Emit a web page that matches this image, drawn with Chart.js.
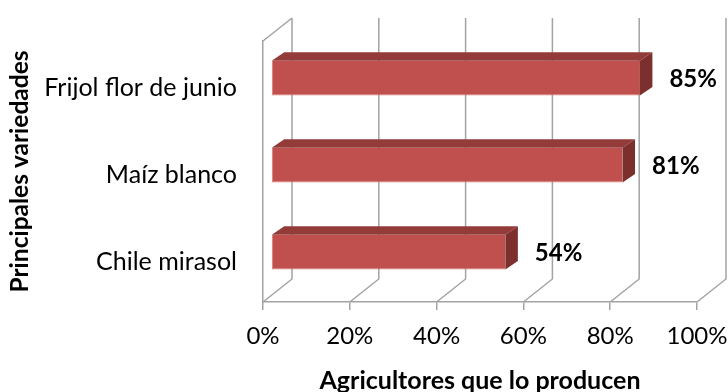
<!DOCTYPE html>
<html>
<head>
<meta charset="utf-8">
<script src="https://cdn.jsdelivr.net/npm/chart.js@4"></script>
<style>
  html, body { margin: 0; padding: 0; background: #fff; }
  #wrap { width: 728px; height: 392px; }
</style>
</head>
<body>
<div id="wrap"><canvas id="chart" width="728" height="392"></canvas></div>
<script>
/* global Chart */

const categories = ['Frijol flor de junio', 'Maíz blanco', 'Chile mirasol'];
const values     = [85, 81, 54];
const xTicks     = [0, 20, 40, 60, 80, 100];

const FONT = 'Lato, "Open Sans", sans-serif';
const GRID = '#a3a3a3';

// 3D box depth (back wall offset from the front plane)
const DEPTH_X = 29, DEPTH_Y = -23;
// bars sit a little way into the box and have their own depth
const BAR_SHIFT_X = 8, BAR_SHIFT_Y = -6.3;
const BAR_DX = 12.5, BAR_DY = -8.5;

const bar3d = {
  id: 'bar3d',
  beforeDatasetsDraw(chart) {
    const { ctx, chartArea: a, scales: { x } } = chart;
    ctx.save();
    ctx.strokeStyle = GRID;
    ctx.lineWidth = 1.5;
    ctx.beginPath();
    // left wall top edge
    ctx.moveTo(a.left, a.top);
    ctx.lineTo(a.left + DEPTH_X, a.top + DEPTH_Y);
    // back wall gridlines + floor diagonals
    xTicks.forEach((v) => {
      const fx = x.getPixelForValue(v);
      const bx = fx + DEPTH_X;
      ctx.moveTo(bx, a.top + DEPTH_Y);
      ctx.lineTo(bx, a.bottom + DEPTH_Y);
      ctx.lineTo(fx, a.bottom);
    });
    ctx.stroke();
    ctx.restore();

    // front faces are drawn by Chart.js, shifted into the box
    ctx.save();
    ctx.translate(BAR_SHIFT_X, BAR_SHIFT_Y);
  },
  afterDatasetsDraw(chart) {
    const { ctx } = chart;
    ctx.restore();

    const meta = chart.getDatasetMeta(0);
    ctx.save();
    meta.data.forEach((el, i) => {
      const { x, y, base, height } = el.getProps(['x', 'y', 'base', 'height'], true);
      const l = base + BAR_SHIFT_X, r = x + BAR_SHIFT_X;
      const t = y - height / 2 + BAR_SHIFT_Y, b = y + height / 2 + BAR_SHIFT_Y;

      // top face
      ctx.fillStyle = '#933b39';
      ctx.beginPath();
      ctx.moveTo(l, t);
      ctx.lineTo(r, t);
      ctx.lineTo(r + BAR_DX, t + BAR_DY);
      ctx.lineTo(l + BAR_DX, t + BAR_DY);
      ctx.closePath();
      ctx.fill();

      // end face
      ctx.fillStyle = '#7c302e';
      ctx.beginPath();
      ctx.moveTo(r, t);
      ctx.lineTo(r + BAR_DX, t + BAR_DY);
      ctx.lineTo(r + BAR_DX, b + BAR_DY);
      ctx.lineTo(r, b);
      ctx.closePath();
      ctx.fill();

      // value label
      ctx.fillStyle = '#000';
      ctx.font = `bold 24px ${FONT}`;
      ctx.textAlign = 'left';
      ctx.textBaseline = 'middle';
      ctx.fillText(`${values[i]}%`, r + BAR_DX + 17, y + BAR_SHIFT_Y + 1.5);
    });
    ctx.restore();
  },
};

new Chart(document.getElementById('chart'), {
  type: 'bar',
  data: {
    labels: categories,
    datasets: [
      {
        data:               values,
        backgroundColor:    '#c0504d',
        borderColor:        '#d77a77',
        borderWidth:        { bottom: 1, left: 1, top: 0, right: 0 },
        borderSkipped:      false,
        categoryPercentage: 1,
        barPercentage:      0.4,
      },
    ],
  },
  plugins: [bar3d],
  options: {
    indexAxis: 'y',
    responsive: false,
    animation: false,
    layout: { padding: { left: 0, top: 38, right: 31, bottom: 0 } },
    plugins: {
      legend:  { display: false },
      tooltip: { enabled: false },
    },
    scales: {
      x: {
        min: 0,
        max: 100,
        afterBuildTicks: (s) => { s.ticks = xTicks.map((v) => ({ value: v })); },
        afterFit: (s) => {
          s.height = 90;
          s.paddingLeft = 0;
          s.paddingRight = 0;
        },
        grid: {
          drawOnChartArea: false,
          drawTicks: true,
          tickLength: 8,
          color: GRID,
          lineWidth: 1.5,
        },
        border: { display: true, color: GRID, width: 1.5 },
        ticks: {
          padding: 12,
          color: '#000',
          font: { family: FONT, size: 24 },
          callback: (v) => `${v}%`,
        },
        title: {
          display: true,
          text: 'Agricultores que lo producen',
          color: '#000',
          font: { family: FONT, size: 25, weight: 'bold', lineHeight: 1 },
          padding: { top: 0, bottom: -1 },
        },
      },
      y: {
        afterFit: (s) => { s.width = 263; },
        grid: { display: false, drawTicks: false },
        border: { display: true, color: GRID, width: 1.5 },
        ticks: {
          padding: 26,
          labelOffset: 3,
          color: '#000',
          font: { family: FONT, size: 25 },
        },
        title: {
          display: true,
          text: 'Principales variedades',
          color: '#000',
          font: { family: FONT, size: 24.5, weight: 'bold', lineHeight: 1 },
          padding: { top: 8, bottom: 0 },
        },
      },
    },
  },
});
</script>
</body>
</html>
